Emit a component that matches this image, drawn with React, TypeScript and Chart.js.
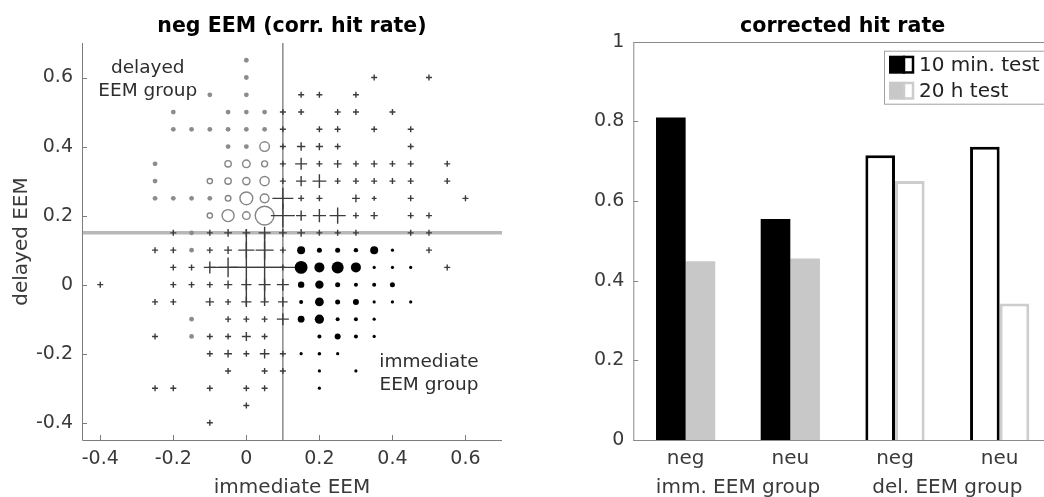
import React, { useEffect, useRef } from 'react';
import { Chart, registerables } from 'chart.js';
Chart.register(...registerables);

const FONT = '"DejaVu Sans", Verdana, sans-serif';
const TICK_COLOR = '#3a3a3a';

// ---------------- left panel data ----------------
const leftTitle = 'neg EEM (corr. hit rate)';
const leftXLabel = 'immediate EEM';
const leftYLabel = 'delayed EEM';
const leftXRange = [-0.45, 0.7];
const leftYRange = [-0.45, 0.7];
const leftXTicks = [-0.4, -0.2, 0, 0.2, 0.4, 0.6];
const leftYTicks = [-0.4, -0.2, 0, 0.2, 0.4, 0.6];
const immCut = 0.1;
const delCut = 0.15;

// [immediate EEM, delayed EEM]
const greyDots: number[][] = [
  [0, 0.65], [0, 0.6], [-0.1, 0.55], [0, 0.55],
  [-0.2, 0.5], [-0.05, 0.5], [0, 0.5], [0.05, 0.5],
  [-0.2, 0.45], [-0.15, 0.45], [-0.1, 0.45], [-0.05, 0.45], [0, 0.45], [0.05, 0.45],
  [-0.05, 0.4], [0, 0.4], [-0.25, 0.35], [-0.25, 0.3],
  [-0.25, 0.25], [-0.2, 0.25], [-0.15, 0.25], [-0.1, 0.25],
  [-0.15, 0.15], [-0.15, 0.1], [-0.15, -0.1], [-0.15, -0.15],
];

// [immediate EEM, delayed EEM, weight]
const openCircles: number[][] = [
  [0.05, 0.4, 2.4],
  [-0.05, 0.35, 1.6], [0, 0.35, 1.9], [0.05, 0.35, 1.5],
  [-0.1, 0.3, 1.3], [-0.05, 0.3, 1.6], [0, 0.3, 1.8], [0.05, 0.3, 2.3],
  [-0.05, 0.25, 1.4], [0, 0.25, 3.2], [0.05, 0.25, 2.2],
  [-0.1, 0.2, 1.3], [-0.05, 0.2, 3.0], [0, 0.2, 1.9], [0.05, 0.2, 4.7],
];

const crossMarks: number[][] = [
  [0.35, 0.6, 1], [0.5, 0.6, 1], [0.15, 0.55, 1], [0.2, 0.55, 1], [0.3, 0.55, 1],
  [0.1, 0.5, 1], [0.15, 0.5, 1], [0.25, 0.5, 1], [0.3, 0.5, 1], [0.4, 0.5, 1],
  [0.1, 0.45, 1], [0.2, 0.45, 1], [0.25, 0.45, 1], [0.35, 0.45, 1], [0.45, 0.45, 1],
  [0.1, 0.4, 1], [0.15, 0.4, 1.4], [0.2, 0.4, 1.2], [0.25, 0.4, 1], [0.45, 0.4, 1],
  [0.1, 0.35, 1], [0.15, 0.35, 2], [0.2, 0.35, 1], [0.25, 0.35, 1.3], [0.3, 0.35, 1],
  [0.35, 0.35, 1.1], [0.4, 0.35, 1], [0.45, 0.35, 1], [0.55, 0.35, 1],
  [0.1, 0.3, 1], [0.15, 0.3, 1.7], [0.2, 0.3, 2.3], [0.25, 0.3, 1], [0.3, 0.3, 1],
  [0.35, 0.3, 1], [0.4, 0.3, 1], [0.45, 0.3, 1], [0.55, 0.3, 1],
  [0.1, 0.25, 3.5], [0.15, 0.25, 1], [0.2, 0.25, 1], [0.3, 0.25, 1.3], [0.35, 0.25, 0.8],
  [0.45, 0.25, 1], [0.6, 0.25, 1],
  [0.1, 0.2, 4], [0.15, 0.2, 1.7], [0.2, 0.2, 2.2], [0.25, 0.2, 2.7], [0.3, 0.2, 1],
  [0.35, 0.2, 1.2], [0.45, 0.2, 1], [0.5, 0.2, 1],
  [-0.2, 0.15, 1], [-0.1, 0.15, 1], [-0.05, 0.15, 1.3], [0, 0.15, 1.3], [0.05, 0.15, 2],
  [0.1, 0.15, 1.3], [0.15, 0.15, 1.3], [0.2, 0.15, 1], [0.25, 0.15, 1], [0.3, 0.15, 1],
  [0.45, 0.15, 1], [0.5, 0.15, 1],
  [-0.25, 0.1, 1], [-0.2, 0.1, 1], [-0.1, 0.1, 1], [-0.05, 0.1, 1.3], [0, 0.1, 2.7],
  [0.05, 0.1, 3], [0.1, 0.1, 1], [0.5, 0.1, 1],
  [-0.2, 0.05, 1], [-0.15, 0.05, 1], [-0.1, 0.05, 2], [-0.05, 0.05, 3.3], [0, 0.05, 12.7],
  [0.05, 0.05, 11.5], [0.1, 0.05, 1], [0.55, 0.05, 1],
  [-0.4, 0, 1], [-0.2, 0, 1], [-0.15, 0, 1], [-0.1, 0, 1], [-0.05, 0, 1.4], [0, 0, 1.7],
  [0.05, 0, 2], [0.1, 0, 2],
  [-0.25, -0.05, 1], [-0.2, -0.05, 1], [-0.1, -0.05, 1.4], [-0.05, -0.05, 1], [0, -0.05, 1.7],
  [0.05, -0.05, 1.4], [0.1, -0.05, 1.6],
  [-0.05, -0.1, 1], [0, -0.1, 1], [0.05, -0.1, 1], [0.1, -0.1, 2],
  [-0.25, -0.15, 1], [-0.1, -0.15, 1], [-0.05, -0.15, 1], [0, -0.15, 1.5], [0.05, -0.15, 1],
  [-0.1, -0.2, 1], [-0.05, -0.2, 1.3], [0, -0.2, 1], [0.05, -0.2, 1.6], [0.1, -0.2, 1],
  [-0.05, -0.25, 1], [0.05, -0.25, 1], [0.1, -0.25, 1],
  [-0.25, -0.3, 1], [-0.2, -0.3, 1], [-0.1, -0.3, 1], [0, -0.3, 1], [0.05, -0.3, 1],
  [0, -0.35, 1], [-0.1, -0.4, 1],
];

const filledDots: number[][] = [
  [0.15, 0.1, 2], [0.2, 0.1, 1.25], [0.25, 0.1, 1.25], [0.3, 0.1, 1.1], [0.35, 0.1, 2], [0.4, 0.1, 0.8],
  [0.15, 0.05, 3.2], [0.2, 0.05, 2.5], [0.25, 0.05, 3], [0.3, 0.05, 2.5], [0.35, 0.05, 0.8],
  [0.4, 0.05, 0.8], [0.45, 0.05, 0.8],
  [0.15, 0, 1.6], [0.2, 0, 2.1], [0.25, 0, 1.25], [0.3, 0, 1], [0.35, 0, 1], [0.4, 0, 1.25],
  [0.15, -0.05, 1], [0.2, -0.05, 2.2], [0.25, -0.05, 1.25], [0.3, -0.05, 1.5], [0.35, -0.05, 0.8],
  [0.4, -0.05, 0.8], [0.45, -0.05, 0.8],
  [0.15, -0.1, 1.7], [0.2, -0.1, 2.3], [0.25, -0.1, 1], [0.3, -0.1, 1], [0.35, -0.1, 0.8],
  [0.2, -0.15, 1], [0.25, -0.15, 1.5], [0.3, -0.15, 1], [0.35, -0.15, 0.8],
  [0.15, -0.2, 0.8], [0.2, -0.2, 0.9], [0.25, -0.2, 0.8],
  [0.2, -0.25, 0.8], [0.3, -0.25, 0.8], [0.2, -0.3, 0.8],
];

const groupNotes = [
  { lines: ['delayed', 'EEM group'], x: -0.27, y: 0.594 },
  { lines: ['immediate', 'EEM group'], x: 0.5, y: -0.258 },
];

// ---------------- right panel data ----------------
const rightTitle = 'corrected hit rate';
const barCategories = ['neg', 'neu', 'neg', 'neu'];
const groupLabels = ['imm. EEM group', 'del. EEM group'];
const seriesNames = ['10 min. test', '20 h test'];
const test10min = [0.81, 0.555, 0.715, 0.736];
const test20h = [0.449, 0.456, 0.65, 0.343];
const rightYTicks = [0, 0.2, 0.4, 0.6, 0.8, 1];

const fmt = (v: number) => (Math.abs(v) < 1e-9 ? '0' : String(Number(v.toFixed(2))));

const leftDecor = {
  id: 'leftDecor',
  afterDraw(chart: any) {
    const { ctx, chartArea: a, scales } = chart;
    const xs = scales.x;
    const ys = scales.y;
    ctx.save();
    ctx.strokeStyle = '#7c7c7c';
    ctx.lineWidth = 1;
    ctx.beginPath();
    ctx.moveTo(a.left + 0.5, a.top);
    ctx.lineTo(a.left + 0.5, a.bottom + 0.5);
    ctx.lineTo(a.right, a.bottom + 0.5);
    leftXTicks.forEach((v) => {
      const px = Math.round(xs.getPixelForValue(v)) + 0.5;
      ctx.moveTo(px, a.bottom);
      ctx.lineTo(px, a.bottom - 5);
    });
    leftYTicks.forEach((v) => {
      const py = Math.round(ys.getPixelForValue(v)) + 0.5;
      ctx.moveTo(a.left, py);
      ctx.lineTo(a.left + 5, py);
    });
    ctx.stroke();

    ctx.fillStyle = '#000';
    ctx.textAlign = 'center';
    ctx.textBaseline = 'alphabetic';
    ctx.font = `bold 20.5px ${FONT}`;
    ctx.fillText(leftTitle, (a.left + a.right) / 2, 31.5);

    ctx.fillStyle = TICK_COLOR;
    ctx.font = `20px ${FONT}`;
    ctx.fillText(leftXLabel, (a.left + a.right) / 2, 492.5);
    ctx.save();
    ctx.translate(27, (a.top + a.bottom) / 2);
    ctx.rotate(-Math.PI / 2);
    ctx.fillText(leftYLabel, 0, 0);
    ctx.restore();

    ctx.fillStyle = '#2e2e2e';
    ctx.font = `18.5px ${FONT}`;
    ctx.textBaseline = 'middle';
    groupNotes.forEach((n) => {
      const cx = xs.getPixelForValue(n.x);
      const cy = ys.getPixelForValue(n.y);
      const lh = 23;
      n.lines.forEach((t, i) => {
        ctx.fillText(t, cx, cy + (i - (n.lines.length - 1) / 2) * lh);
      });
    });
    ctx.restore();
  },
};

const rightDecor = {
  id: 'rightDecor',
  afterDraw(chart: any) {
    const { ctx, chartArea: a, scales } = chart;
    const xs = scales.x;
    const ys = scales.y;
    ctx.save();
    ctx.strokeStyle = '#8a8a8a';
    ctx.lineWidth = 1;
    ctx.beginPath();
    ctx.rect(a.left + 0.5, Math.round(a.top) + 0.5, a.right - a.left, Math.round(a.bottom - a.top));
    rightYTicks.forEach((v) => {
      const py = Math.round(ys.getPixelForValue(v)) + 0.5;
      ctx.moveTo(a.left, py);
      ctx.lineTo(a.left + 5, py);
      ctx.moveTo(a.right, py);
      ctx.lineTo(a.right - 5, py);
    });
    ctx.stroke();

    ctx.fillStyle = '#000';
    ctx.textAlign = 'center';
    ctx.textBaseline = 'alphabetic';
    ctx.font = `bold 20.6px ${FONT}`;
    ctx.fillText(rightTitle, (a.left + a.right) / 2, 31.5);

    ctx.fillStyle = TICK_COLOR;
    ctx.font = `20px ${FONT}`;
    groupLabels.forEach((g, i) => {
      const cx = (xs.getPixelForValue(2 * i) + xs.getPixelForValue(2 * i + 1)) / 2;
      ctx.fillText(g, cx, 492.5);
    });

    // legend
    const bw = 160;
    const bh = 53;
    const bx = a.right - 8 - bw;
    const by = a.top + 9;
    ctx.fillStyle = '#fff';
    ctx.fillRect(bx, by, bw, bh);
    ctx.strokeStyle = '#a0a0a0';
    ctx.lineWidth = 1;
    ctx.strokeRect(bx + 0.5, by + 0.5, bw, bh);
    const rows = [
      { name: seriesNames[0], fill: '#000', edge: '#000', cy: by + 14 },
      { name: seriesNames[1], fill: '#c8c8c8', edge: '#cccccc', cy: by + 40 },
    ];
    rows.forEach((r) => {
      ctx.fillStyle = r.fill;
      ctx.fillRect(bx + 5, r.cy - 9, 16, 18);
      ctx.fillStyle = '#fff';
      ctx.fillRect(bx + 21, r.cy - 9, 9, 18);
      ctx.strokeStyle = r.edge;
      ctx.lineWidth = 2.5;
      ctx.strokeRect(bx + 20, r.cy - 7.75, 9, 15.5);
      ctx.fillStyle = '#222';
      ctx.font = `20px ${FONT}`;
      ctx.textAlign = 'left';
      ctx.textBaseline = 'middle';
      ctx.fillText(r.name, bx + 35, r.cy + 1);
    });
    ctx.restore();
  },
};

export default function App() {
  const leftRef = useRef<HTMLCanvasElement>(null);
  const rightRef = useRef<HTMLCanvasElement>(null);

  useEffect(() => {
    const pts = (arr: number[][]) => arr.map((p) => ({ x: p[0], y: p[1] }));
    const left = new Chart(leftRef.current as HTMLCanvasElement, {
      type: 'scatter',
      data: {
        datasets: [
          {
            label: 'immediate group',
            data: pts(filledDots),
            pointStyle: 'circle',
            pointRadius: filledDots.map((p) => p[2] * 2),
            backgroundColor: '#000',
            borderWidth: 0,
            order: 1,
          },
          {
            label: 'no group',
            data: pts(crossMarks),
            pointStyle: 'cross',
            pointRadius: crossMarks.map((p) => p[2] * 3),
            borderColor: '#3c3c3c',
            borderWidth: 1.4,
            order: 2,
          },
          {
            label: 'delayed group',
            data: pts(openCircles),
            pointStyle: 'circle',
            pointRadius: openCircles.map((p) => p[2] * 2),
            backgroundColor: 'rgba(255,255,255,0)',
            borderColor: '#858585',
            borderWidth: 1.4,
            order: 3,
          },
          {
            label: 'single',
            data: pts(greyDots),
            pointStyle: 'circle',
            pointRadius: 2.4,
            backgroundColor: '#8c8c8c',
            borderWidth: 0,
            order: 4,
          },
          {
            label: 'delayed cut',
            data: [{ x: leftXRange[0], y: delCut }, { x: leftXRange[1], y: delCut }],
            showLine: true,
            borderColor: '#b8b8b8',
            borderWidth: 3.5,
            pointRadius: 0,
            order: 10,
          },
          {
            label: 'immediate cut',
            data: [{ x: immCut, y: leftYRange[0] }, { x: immCut, y: leftYRange[1] }],
            showLine: true,
            borderColor: '#6e6e6e',
            borderWidth: 1.2,
            pointRadius: 0,
            order: 9,
          },
        ] as any,
      },
      options: {
        animation: false,
        responsive: false,
        devicePixelRatio: 1,
        events: [],
        layout: { autoPadding: false, padding: { left: 0, right: 18, top: 43, bottom: 0 } },
        plugins: { legend: { display: false }, tooltip: { enabled: false } },
        scales: {
          x: {
            type: 'linear',
            min: leftXRange[0],
            max: leftXRange[1],
            grid: { display: false, drawTicks: false },
            border: { display: false },
            afterBuildTicks: (s: any) => {
              s.ticks = leftXTicks.map((v) => ({ value: v }));
            },
            afterFit: (s: any) => {
              s.height = 57;
              s.paddingLeft = 0;
              s.paddingRight = 0;
            },
            ticks: {
              callback: (v: any) => fmt(Number(v)),
              font: { family: FONT, size: 19 },
              color: TICK_COLOR,
              padding: 8,
              maxRotation: 0,
              autoSkip: false,
            },
          },
          y: {
            type: 'linear',
            min: leftYRange[0],
            max: leftYRange[1],
            grid: { display: false, drawTicks: false },
            border: { display: false },
            afterBuildTicks: (s: any) => {
              s.ticks = leftYTicks.map((v) => ({ value: v }));
            },
            afterFit: (s: any) => {
              s.width = 82;
              s.paddingTop = 0;
              s.paddingBottom = 0;
            },
            ticks: {
              callback: (v: any) => fmt(Number(v)),
              font: { family: FONT, size: 19 },
              color: TICK_COLOR,
              padding: 9,
              autoSkip: false,
            },
          },
        },
      } as any,
      plugins: [leftDecor],
    });

    const right = new Chart(rightRef.current as HTMLCanvasElement, {
      type: 'bar',
      data: {
        labels: barCategories,
        datasets: [
          {
            label: seriesNames[0],
            data: test10min,
            backgroundColor: ['#000', '#000', '#fff', '#fff'],
            borderColor: '#000',
            borderWidth: [0, 0, 3, 3],
          },
          {
            label: seriesNames[1],
            data: test20h,
            backgroundColor: ['#c8c8c8', '#c8c8c8', '#fff', '#fff'],
            borderColor: '#cdcdcd',
            borderWidth: [0, 0, 3, 3],
          },
        ],
      },
      options: {
        animation: false,
        responsive: false,
        devicePixelRatio: 1,
        events: [],
        categoryPercentage: 0.566,
        barPercentage: 1,
        layout: { autoPadding: false, padding: { left: 0, right: 18, top: 41.7, bottom: 0 } },
        plugins: { legend: { display: false }, tooltip: { enabled: false } },
        scales: {
          x: {
            type: 'category',
            grid: { display: false, drawTicks: false },
            border: { display: false },
            afterFit: (s: any) => {
              s.height = 57;
              s.paddingLeft = 0;
              s.paddingRight = 0;
            },
            ticks: {
              font: { family: FONT, size: 20 },
              color: TICK_COLOR,
              padding: 7,
              maxRotation: 0,
              autoSkip: false,
            },
          },
          y: {
            type: 'linear',
            min: 0,
            max: 1,
            grid: { display: false, drawTicks: false },
            border: { display: false },
            afterBuildTicks: (s: any) => {
              s.ticks = rightYTicks.map((v) => ({ value: v }));
            },
            afterFit: (s: any) => {
              s.width = 103.3;
              s.paddingTop = 0;
              s.paddingBottom = 0;
            },
            ticks: {
              callback: (v: any) => fmt(Number(v)),
              font: { family: FONT, size: 19 },
              color: TICK_COLOR,
              padding: 9,
              autoSkip: false,
            },
          },
        },
      } as any,
      plugins: [rightDecor],
    });

    return () => {
      left.destroy();
      right.destroy();
    };
  }, []);

  return (
    <div
      style={{
        position: 'fixed',
        left: 0,
        top: 0,
        width: 1044,
        height: 497,
        overflow: 'hidden',
        background: '#fff',
      }}
    >
      <canvas
        ref={leftRef}
        width={520}
        height={497}
        style={{ position: 'absolute', left: 0, top: 0, width: 520, height: 497, display: 'block' }}
      />
      <canvas
        ref={rightRef}
        width={540}
        height={497}
        style={{ position: 'absolute', left: 530, top: 0, width: 540, height: 497, display: 'block' }}
      />
    </div>
  );
}
